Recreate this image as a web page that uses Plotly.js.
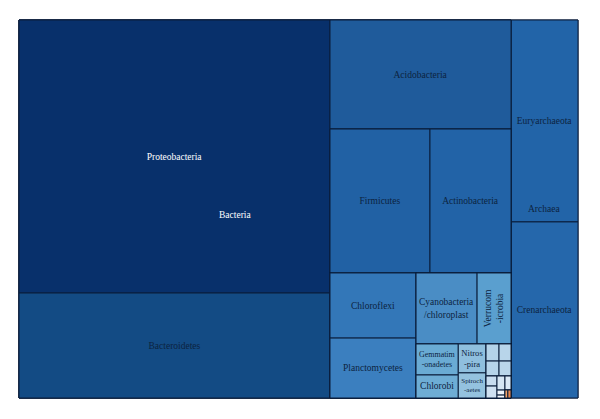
<!DOCTYPE html>
<html>
<head>
<meta charset="utf-8">
<script src="https://cdn.plot.ly/plotly-3.0.1.min.js"></script>
<style>
  html, body { margin: 0; padding: 0; background: #fff; }
  #tree { width: 600px; height: 419px; }
</style>
</head>
<body>
<div id="tree"></div>
<script>
// Treemap: relative abundance (%) of phyla, grouped by domain

var domains = ['Bacteria', 'Archaea'];

var phyla = [
  'Proteobacteria', 'Bacteroidetes', 'Acidobacteria', 'Firmicutes', 'Actinobacteria',
  'Chloroflexi', 'Planctomycetes', 'Cyanobacteria/chloroplast', 'Verrucomicrobia',
  'Gemmatimonadetes', 'Chlorobi', 'Nitrospira', 'Spirochaetes',
  'TM7', 'Armatimonadetes', 'OD1', 'Deinococcus-Thermus', 'WS3', 'Fibrobacteres',
  'Elusimicrobia', 'Tenericutes', 'Chlamydiae', 'Lentisphaerae', 'Fusobacteria', 'Synergistetes',
  'Euryarchaeota', 'Crenarchaeota'
];

// abundance in %
var abundance = [
  40.18, 15.45, 9.34, 6.81, 5.52,
  2.65, 2.44, 2.05, 1.14,
  0.62, 0.46, 0.38, 0.33,
  0.105, 0.097, 0.092, 0.085, 0.052, 0.062,
  0.053, 0.019, 0.011, 0.04, 0.011, 0.012,
  6.40, 5.58
];

// label as printed inside the box ('' = too small to print)
var shownLabel = [
  'Proteobacteria', 'Bacteroidetes', 'Acidobacteria', 'Firmicutes', 'Actinobacteria',
  'Chloroflexi', 'Planctomycetes', 'Cyanobacteria<br>/chloroplast', '',
  'Gemmatim<br>-onadetes', 'Chlorobi', 'Nitros<br>-pira', 'Spiroch<br>-aetes',
  '', '', '', '', '', '', '', '', '', '', '', '',
  'Euryarchaeota', 'Crenarchaeota'
];

// unlabelled sub-groups so slice/dice tiling gives the pivot-by-size arrangement
var groups = ['bx', 'b1', 'b2', 'b3', 'b4', 'b5', 'b6', 'b7', 'b8', 'b9',
  'b10', 'b11', 'b12', 'b13', 'b14', 'b15', 'b16', 'b17', 'b18'];
var groupParent = ['Bacteria', 'bx', 'bx', 'b2', 'b2', 'b4', 'b4', 'b6', 'b6', 'b8',
  'b8', 'b8', 'b11', 'b11', 'b11', 'b14', 'b14', 'b14', 'b17'];

var phylumParent = [
  'b1', 'b1', 'b2', 'b3', 'b3',
  'b5', 'b5', 'b7', 'b7',
  'b9', 'b9', 'b10', 'b10',
  'b12', 'b12', 'b13', 'b13', 'b15', 'b15',
  'b16', 'b16', 'b16', 'b17', 'b18', 'b18',
  'Archaea', 'Archaea'
];

// colours (sequential blues, light ones and oranges for rare phyla)
var phylumColors = [
  '#08306b', '#134b84', '#1f5b9b', '#2161a4', '#2263a7',
  '#3377b8', '#3b7fbf', '#4a8dc5', '#5a9fcf',
  '#6aabd4', '#6eadd5', '#8fbfde', '#94c2df',
  '#b4d3e9', '#b8d5ea', '#b6d4ea', '#bad6eb', '#c8ddf0', '#cfe1f2',
  '#d6e6f4', '#eef4fb', '#f6f9fd', '#dbe9f6', '#f4a46a', '#e8874f',
  '#2264a8', '#2567ab'
];

var none = function (v) { return function () { return v; }; };

var labels = domains.concat(phyla, groups);
var parents = domains.map(none('')).concat(phylumParent, groupParent);
var values = domains.map(none(0)).concat(abundance, groups.map(none(0)));
var texts = domains.map(none('')).concat(shownLabel, groups.map(none('')));
var colors = ['#08306b', '#2264a8'].concat(phylumColors, groups.map(none('#2264a8')));
var fontColors = labels.map(function (p) {
  return p === 'Proteobacteria' ? '#ffffff' : '#0c2340';
});

var trace = {
  type: 'treemap',
  labels: labels,
  parents: parents,
  values: values,
  branchvalues: 'remainder',
  text: texts,
  texttemplate: '%{text}',
  textposition: 'middle center',
  textfont: { family: 'Liberation Serif, DejaVu Serif, serif', size: 9.5, color: fontColors },
  hoverinfo: 'label+value',
  marker: {
    colors: colors,
    line: { color: '#0a1d3a', width: 1 },
    pad: { t: 0, l: 0, r: 0, b: 0 }
  },
  tiling: { packing: 'slice-dice', pad: 0 },
  pathbar: { visible: false },
  sort: false
};

var annFont = { family: 'Liberation Serif, serif', size: 9.5, color: '#0c2340' };

var layout = {
  width: 600,
  height: 419,
  margin: { l: 19, r: 22, t: 20, b: 21 },
  paper_bgcolor: '#ffffff',
  showlegend: false,
  annotations: [
    { text: 'Bacteria', x: 0.386, y: 0.484, xref: 'paper', yref: 'paper',
      xanchor: 'center', yanchor: 'middle', showarrow: false,
      font: { family: 'Liberation Serif, serif', size: 9.5, color: '#ffffff' } },
    { text: 'Archaea', x: 0.939, y: 0.50, xref: 'paper', yref: 'paper',
      xanchor: 'center', yanchor: 'middle', showarrow: false, font: annFont },
    { text: 'Verrucom<br>-icrobia', x: 0.85, y: 0.238, xref: 'paper', yref: 'paper',
      xanchor: 'center', yanchor: 'middle', textangle: -90, showarrow: false, font: annFont }
  ]
};

Plotly.newPlot('tree', [trace], layout, { staticPlot: true });
</script>
</body>
</html>
